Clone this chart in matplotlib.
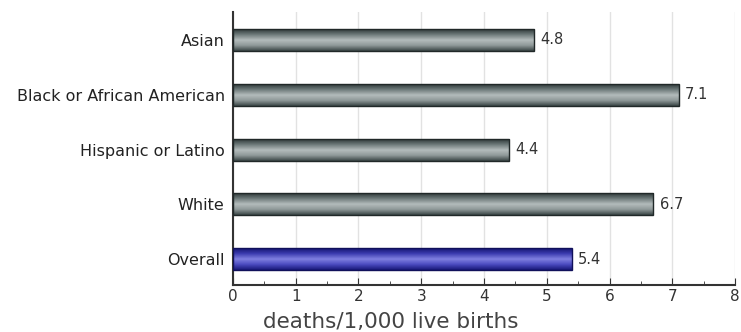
import matplotlib
matplotlib.use("Agg")
import matplotlib.pyplot as plt
import numpy as np
from matplotlib.colors import LinearSegmentedColormap
from matplotlib.ticker import MultipleLocator

# Data
categories = ['Asian', 'Black or African American', 'Hispanic or Latino', 'White', 'Overall']
values = [4.8, 7.1, 4.4, 6.7, 5.4]
value_labels = ['4.8', '7.1', '4.4', '6.7', '5.4']

# gradient colours (edge -> middle -> edge)
gray_cmap = LinearSegmentedColormap.from_list(
    'gray_bar', ['#2f3a3a', '#6f7b7b', '#b4bcbc', '#8e9898', '#3a4545'])
blue_cmap = LinearSegmentedColormap.from_list(
    'blue_bar', ['#141470', '#3c3cb0', '#8080e0', '#4a4ac0', '#181878'])

fig = plt.figure(figsize=(7.41, 3.32), dpi=100)
ax = fig.add_axes([0.3144, 0.1416, 0.6776, 0.8223])

pos = np.arange(len(categories))
bars = ax.barh(pos, values, height=0.4, color='none',
               edgecolor='#202828', linewidth=1.0, zorder=3)

grad = np.linspace(0, 1, 64).reshape(-1, 1)
for i, b in enumerate(bars):
    x0, y0 = b.get_x(), b.get_y()
    w, h = b.get_width(), b.get_height()
    cmap = blue_cmap if categories[i] == 'Overall' else gray_cmap
    im = ax.imshow(grad, cmap=cmap, aspect='auto', origin='lower',
                   extent=[x0, x0 + w, y0, y0 + h], zorder=2)
    im.set_clip_path(b)
    if categories[i] == 'Overall':
        b.set_edgecolor('#10105a')
    ax.text(w + 0.1, pos[i], value_labels[i], va='center', ha='left',
            fontsize=10.5, color='#333333')

ax.set_xlim(0, 8)
ax.set_ylim(4.47, -0.51)
ax.set_yticks(pos)
ax.set_yticklabels(categories, fontsize=11.5, color='#222222')
ax.set_xticks(range(9))
ax.set_xticklabels([str(i) for i in range(9)], fontsize=11, color='#333333')
ax.xaxis.set_minor_locator(MultipleLocator(0.5))
ax.tick_params(axis='x', which='major', direction='in', length=5, color='#333333',
               pad=3)
ax.tick_params(axis='x', which='minor', direction='in', length=3, color='#333333')
ax.tick_params(axis='y', length=0, pad=6)

ax.set_xlabel('deaths/1,000 live births', fontsize=15.5, color='#444444',
              labelpad=0)
ax.xaxis.set_label_coords(0.315, -0.1, transform=ax.transAxes)

ax.grid(axis='x', color='#e2e2e2', linewidth=1.0, zorder=0)
ax.set_axisbelow(True)
for s in ['top', 'right']:
    ax.spines[s].set_visible(False)
ax.spines['left'].set_color('#333333')
ax.spines['bottom'].set_color('#333333')
ax.spines['left'].set_linewidth(1.5)
ax.spines['bottom'].set_linewidth(1.5)

fig.savefig('out.png', dpi=100)
